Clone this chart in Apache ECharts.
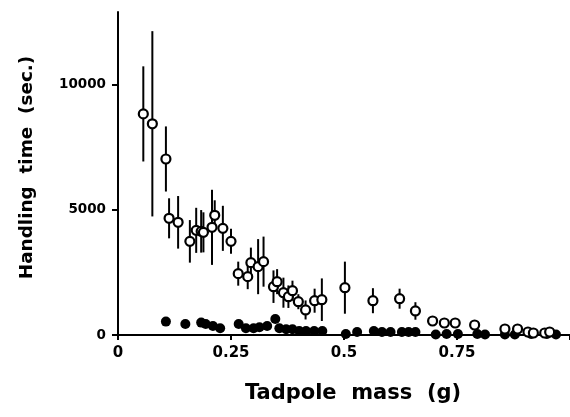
<!DOCTYPE html>
<html>
<head>
<meta charset="UTF-8">
<title>Handling time</title>
<style>
  body { margin: 0; padding: 0; background: #fff; }
  #chart { width: 570px; height: 417px; }
</style>
</head>
<body>
<div id="chart"></div>
<script src="https://cdn.jsdelivr.net/npm/echarts@6/dist/echarts.min.js"></script>
<script>
// open circles: mass (g), handling time (sec.), error half-length
var openMass = [0.056, 0.076, 0.106, 0.113, 0.133, 0.159, 0.173, 0.184, 0.189, 0.208,
                0.214, 0.232, 0.250, 0.266, 0.287, 0.294, 0.310, 0.322, 0.344, 0.352,
                0.366, 0.377, 0.386, 0.399, 0.415, 0.435, 0.451, 0.502, 0.564, 0.623,
                0.658, 0.696, 0.722, 0.746, 0.789, 0.856, 0.884, 0.907, 0.919, 0.944, 0.955];
var openTime = [8830, 8435, 7030, 4660, 4500, 3740, 4180, 4140, 4100, 4300,
                4780, 4260, 3740, 2450, 2330, 2890, 2730, 2930, 1930, 2130,
                1690, 1530, 1770, 1330, 1000, 1370, 1410, 1890, 1370, 1450,
                960, 560, 480, 480, 400, 240, 240, 120, 80, 80, 120];
var openErr  = [1900, 3700, 1300, 800, 1050, 850, 900, 850, 800, 1500,
                600, 900, 500, 480, 500, 600, 1100, 1000, 650, 500,
                600, 450, 400, 300, 380, 480, 850, 1040, 500, 400,
                350, 0, 0, 0, 0, 0, 0, 0, 0, 0, 0];

// filled circles
var filledMass = [0.106, 0.149, 0.184, 0.194, 0.210, 0.226, 0.267, 0.283, 0.300, 0.313,
                  0.330, 0.348, 0.357, 0.372, 0.386, 0.401, 0.416, 0.434, 0.452, 0.504,
                  0.529, 0.566, 0.584, 0.603, 0.628, 0.643, 0.658, 0.703, 0.727, 0.752,
                  0.795, 0.812, 0.856, 0.878, 0.914, 0.949, 0.969];
var filledTime = [535, 440, 495, 440, 360, 270, 440, 270, 270, 310,
                  360, 640, 270, 230, 230, 160, 160, 160, 160, 40,
                  120, 160, 120, 120, 120, 120, 120, 20, 40, 40,
                  40, 20, 20, 20, 40, 40, 20];

var xTicks = [0, 0.25, 0.5, 0.75, 1];
var yTicks = [0, 5000, 10000];

var openData = openMass.map(function (m, i) { return [m, openTime[i]]; });
var errData = openMass.map(function (m, i) { return [m, openTime[i] - openErr[i], openTime[i] + openErr[i]]; })
                      .filter(function (d) { return d[2] > d[1]; });
var filledData = filledMass.map(function (m, i) { return [m, filledTime[i]]; });

var chart = echarts.init(document.getElementById('chart'));
chart.setOption({
  animation: false,
  backgroundColor: '#fff',
  grid: { left: 118, top: 12, width: 454, height: 323 },
  xAxis: {
    type: 'value', min: 0, max: 1,
    splitLine: { show: false },
    axisLine: { lineStyle: { color: '#000', width: 2 } },
    axisTick: { customValues: xTicks, length: 5, lineStyle: { color: '#000', width: 2 } },
    axisLabel: { customValues: [0, 0.25, 0.5, 0.75], margin: 11, color: '#000',
                 fontFamily: 'DejaVu Sans', fontWeight: 'bold', fontSize: 15,
                 formatter: function (v) { return String(v); } },
    name: 'Tadpole  mass  (g)', nameLocation: 'middle', nameGap: 48,
    nameTextStyle: { color: '#000', fontFamily: 'DejaVu Sans', fontWeight: 'bold',
                     fontSize: 21, padding: [0, 0, 0, 18] }
  },
  yAxis: {
    type: 'value', min: 0, max: 12900,
    splitLine: { show: false },
    axisLine: { lineStyle: { color: '#000', width: 2 } },
    axisTick: { customValues: yTicks, length: 6, lineStyle: { color: '#000', width: 2 } },
    axisLabel: { customValues: yTicks, margin: 12, color: '#000',
                 fontFamily: 'DejaVu Sans', fontWeight: 'bold', fontSize: 13.5,
                 formatter: function (v) { return String(v); } },
    name: 'Handling  time  (sec.)', nameLocation: 'middle', nameGap: 82,
    nameTextStyle: { color: '#000', fontFamily: 'DejaVu Sans', fontWeight: 'bold',
                     fontSize: 18.4, padding: [0, 0, 0, 12] }
  },
  series: [
    {
      type: 'scatter', data: filledData, symbol: 'circle', symbolSize: 10,
      itemStyle: { color: '#000', opacity: 1 }, z: 2
    },
    {
      type: 'custom', data: errData, z: 3,
      renderItem: function (params, api) {
        var lo = api.coord([api.value(0), api.value(1)]);
        var hi = api.coord([api.value(0), api.value(2)]);
        return {
          type: 'line',
          shape: { x1: lo[0], y1: lo[1], x2: hi[0], y2: hi[1] },
          style: { stroke: '#000', lineWidth: 2 }
        };
      }
    },
    {
      type: 'scatter', data: openData, symbol: 'circle', symbolSize: 9, z: 4,
      itemStyle: { color: '#fff', borderColor: '#000', borderWidth: 2.2, opacity: 1 }
    }
  ]
});
</script>
</body>
</html>
